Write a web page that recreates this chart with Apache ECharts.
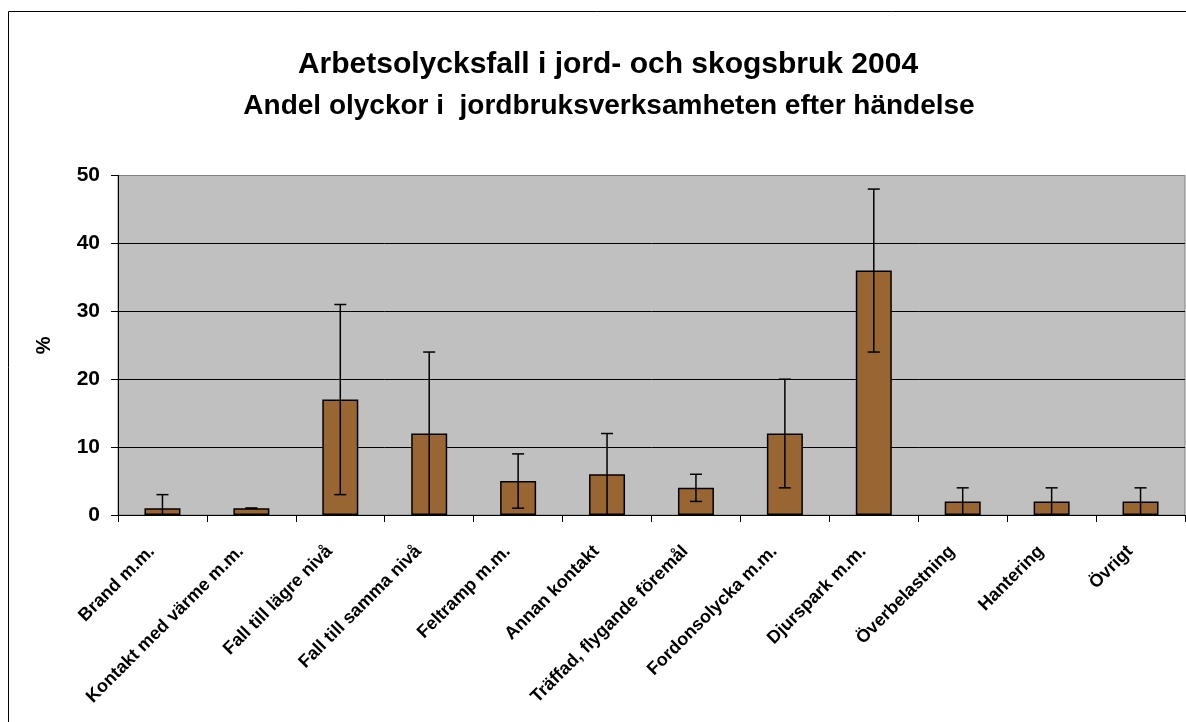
<!DOCTYPE html>
<html>
<head>
<meta charset="utf-8">
<script src="https://cdn.jsdelivr.net/npm/echarts@6/dist/echarts.min.js"></script>
<style>
html,body{margin:0;padding:0;background:#fff;}
#c{width:1186px;height:722px;}
</style>
</head>
<body>
<div id="c"></div>
<script>
const titleText = 'Arbetsolycksfall i jord- och skogsbruk 2004';
const subtitleText = 'Andel olyckor i  jordbruksverksamheten efter händelse';
const categories = ['Brand m.m.', 'Kontakt med värme m.m.', 'Fall till lägre nivå', 'Fall till samma nivå', 'Feltramp m.m.', 'Annan kontakt', 'Träffad, flygande föremål', 'Fordonsolycka m.m.', 'Djurspark m.m.', 'Överbelastning', 'Hantering', 'Övrigt'];
const values = [1, 1, 17, 12, 5, 6, 4, 12, 36, 2, 2, 2];
const errors = [2, 0, 14, 12, 4, 6, 2, 8, 12, 2, 2, 2];
const yTicks = [0, 10, 20, 30, 40, 50];
const yAxisName = '%';

const FONT = '"Liberation Sans", Arial, sans-serif';
const errData = values.map((v, i) => [i, v - errors[i], v + errors[i]]);

const chart = echarts.init(document.getElementById('c'), null, {renderer: 'canvas'});
chart.setOption({
  backgroundColor: '#ffffff',
  animation: false,
  title: [
    {text: titleText, left: 603, top: 45, textAlign: 'center',
     textStyle: {fontFamily: FONT, fontSize: 30, fontWeight: 'bold', color: '#000'}},
    {text: subtitleText, left: 604, top: 87, textAlign: 'center',
     textStyle: {fontFamily: FONT, fontSize: 28, fontWeight: 'bold', color: '#000'}}
  ],
  graphic: [
    {type: 'rect', shape: {x: 8.5, y: 11.5, width: 1300, height: 900},
     style: {fill: null, stroke: '#000', lineWidth: 1}, z: 100, silent: true}
  ],
  grid: {left: 118, right: 1, top: 175.5, bottom: 207, show: true,
         backgroundColor: '#C0C0C0', borderColor: '#808080', borderWidth: 1},
  xAxis: {
    type: 'category', data: categories, boundaryGap: true,
    axisLine: {lineStyle: {color: '#000', width: 1}},
    axisTick: {show: true, alignWithLabel: false, length: 7, lineStyle: {color: '#000'}},
    axisLabel: {rotate: 45, interval: 0, margin: 23, padding: [0, 15, 0, 0],
                fontFamily: FONT, fontSize: 18, fontWeight: 'bold', color: '#000'}
  },
  yAxis: {
    type: 'value', min: yTicks[0], max: yTicks[yTicks.length - 1], interval: 10,
    name: yAxisName, nameLocation: 'middle', nameGap: 64, nameRotate: 90,
    nameTextStyle: {fontFamily: FONT, fontSize: 20, fontWeight: 'bold', color: '#000'},
    axisLine: {show: true, lineStyle: {color: '#000', width: 1}},
    axisTick: {show: true, inside: false, length: 7, lineStyle: {color: '#000'}},
    axisLabel: {margin: 18, fontFamily: FONT, fontSize: 21, fontWeight: 'bold', color: '#000'},
    splitLine: {show: true, lineStyle: {color: ['#000', '#000', '#000', '#000', '#000', '#808080'], width: 1}}
  },
  series: [
    {type: 'bar', data: values, barWidth: 36,
     itemStyle: {color: '#996633', borderColor: '#000', borderWidth: 1.5}},
    {type: 'custom', data: errData, z: 10,
     renderItem: function (params, api) {
       const i = api.value(0);
       const lo = Math.max(api.value(1), 0);
       const hi = api.value(2);
       const top = api.coord([i, hi]);
       const bot = api.coord([i, lo]);
       const half = 6;
       const children = [
         {type: 'line', shape: {x1: top[0], y1: top[1], x2: bot[0], y2: bot[1]},
          style: {stroke: '#000', lineWidth: 1.5}},
         {type: 'line', shape: {x1: top[0] - half, y1: top[1], x2: top[0] + half, y2: top[1]},
          style: {stroke: '#000', lineWidth: 1.5}}
       ];
       if (api.value(1) >= 0) {
         children.push({type: 'line', shape: {x1: bot[0] - half, y1: bot[1], x2: bot[0] + half, y2: bot[1]},
          style: {stroke: '#000', lineWidth: 1.5}});
       }
       return {type: 'group', children: children};
     }}
  ]
});
</script>
</body>
</html>
